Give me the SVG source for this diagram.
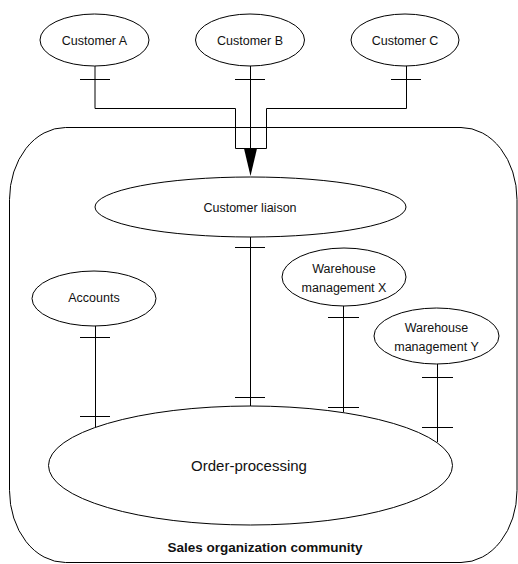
<svg xmlns="http://www.w3.org/2000/svg" width="518" height="564" viewBox="0 0 518 564">
<style>
.shape{fill:none;stroke:#000;stroke-width:1}
.node{fill:#fff;stroke:#000;stroke-width:1}
.ln{fill:none;stroke:#000;stroke-width:1}
.t{font-family:"Liberation Sans",Arial,sans-serif;font-size:12.5px;fill:#111;text-anchor:middle}
.big{font-size:15px}
.b{font-weight:bold;font-size:13.5px}
</style>
<rect width="518" height="564" fill="#fff"/>
<g id="community">
<rect class="shape" x="9.5" y="127.5" width="507.5" height="435" rx="56" ry="72"/>
<text class="t b" x="265" y="552">Sales organization community</text>
</g>
<g id="connectors">
<!-- customers to liaison -->
<polyline class="ln" points="95,66 95,108.5 235.5,108.5 235.5,148.5 266.5,148.5 266.5,108.5 406.5,108.5 406.5,66"/>
<line class="ln" x1="250.5" y1="66" x2="250.5" y2="150"/>
<polygon points="244,148.5 257,148.5 250.5,176" fill="#000"/>
<line class="ln" x1="80" y1="79.5" x2="110" y2="79.5"/>
<line class="ln" x1="235" y1="79.5" x2="265" y2="79.5"/>
<line class="ln" x1="391" y1="79.5" x2="421" y2="79.5"/>
<!-- liaison to order processing -->
<line class="ln" x1="250.5" y1="237" x2="250.5" y2="406"/>
<line class="ln" x1="235" y1="247.5" x2="265" y2="247.5"/>
<line class="ln" x1="235" y1="397.5" x2="265" y2="397.5"/>
<!-- accounts -->
<line class="ln" x1="95.5" y1="326" x2="95.5" y2="427"/>
<line class="ln" x1="80" y1="337.5" x2="110" y2="337.5"/>
<line class="ln" x1="80" y1="416.5" x2="110" y2="416.5"/>
<!-- warehouse X -->
<line class="ln" x1="343.5" y1="306" x2="343.5" y2="412"/>
<line class="ln" x1="328" y1="317.5" x2="359" y2="317.5"/>
<line class="ln" x1="328" y1="407.5" x2="359" y2="407.5"/>
<!-- warehouse Y -->
<line class="ln" x1="437.5" y1="364" x2="437.5" y2="442"/>
<line class="ln" x1="422" y1="377.5" x2="453" y2="377.5"/>
<line class="ln" x1="422" y1="427.5" x2="453" y2="427.5"/>
</g>
<g id="customer-a">
<ellipse class="node" cx="94.5" cy="40" rx="54.5" ry="26"/>
<text class="t" x="94.5" y="44.5">Customer A</text>
</g>
<g id="customer-b">
<ellipse class="node" cx="250" cy="40" rx="54.5" ry="26"/>
<text class="t" x="250" y="44.5">Customer B</text>
</g>
<g id="customer-c">
<ellipse class="node" cx="405" cy="40" rx="54" ry="26"/>
<text class="t" x="405" y="44.5">Customer C</text>
</g>
<g id="customer-liaison">
<ellipse class="node" cx="250.5" cy="207" rx="155.5" ry="30"/>
<text class="t" x="250" y="211.5">Customer liaison</text>
</g>
<g id="accounts">
<ellipse class="node" cx="94" cy="298.5" rx="62" ry="27.5"/>
<text class="t" x="94" y="302">Accounts</text>
</g>
<g id="warehouse-x">
<ellipse class="node" cx="344" cy="277" rx="62" ry="29"/>
<text class="t" x="344" y="272.5">Warehouse</text>
<text class="t" x="344" y="291.5">management X</text>
</g>
<g id="warehouse-y">
<ellipse class="node" cx="436.5" cy="336" rx="62.5" ry="28"/>
<text class="t" x="436.5" y="332">Warehouse</text>
<text class="t" x="436.5" y="351">management Y</text>
</g>
<g id="order-processing">
<ellipse class="node" cx="250.5" cy="465.5" rx="202" ry="59.5"/>
<text class="t big" x="249" y="471">Order-processing</text>
</g>
</svg>
